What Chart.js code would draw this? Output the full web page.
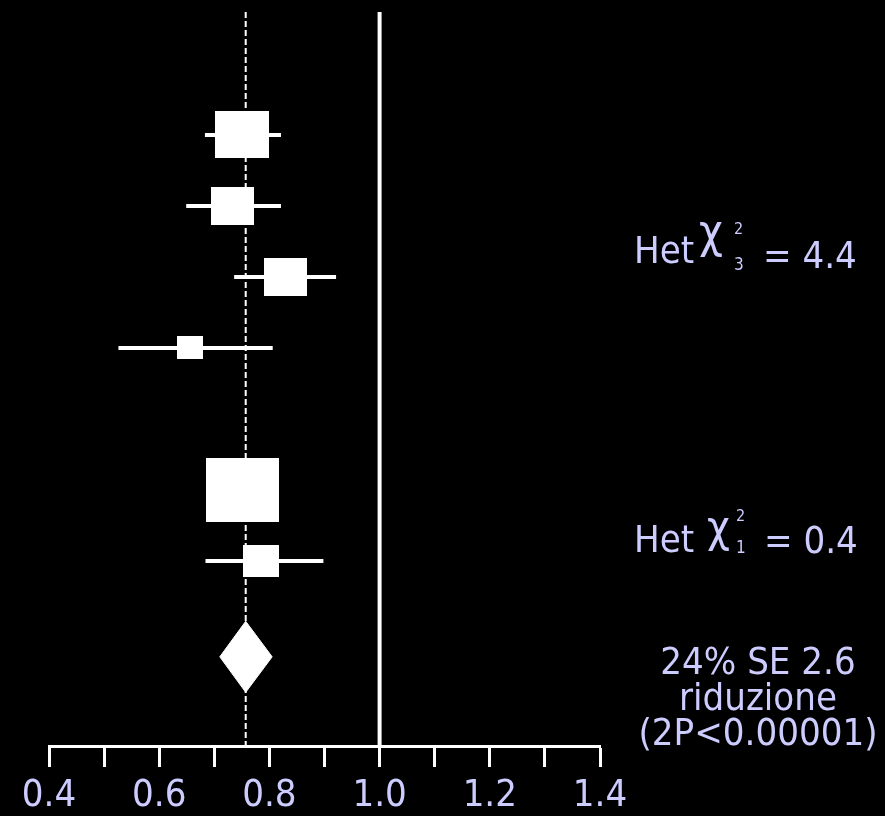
<!DOCTYPE html>
<html>
<head>
<meta charset="utf-8">
<script src="https://cdn.jsdelivr.net/npm/chart.js@4/dist/chart.umd.min.js"></script>
<style>
  html, body { margin: 0; padding: 0; background: #000; }
  #wrap { position: relative; width: 885px; height: 816px; background: #000; overflow: hidden; }
  #c { position: absolute; left: 0; top: 0; }
  .t { position: absolute; color: #ccccff; font-family: "DejaVu Sans Condensed", "DejaVu Sans", sans-serif; font-stretch: condensed; line-height: 1; white-space: nowrap; }
  #summary { position: absolute; left: 608px; top: 644px; width: 300px; text-align: center; color: #ccccff;
    font-family: "DejaVu Sans Condensed", "DejaVu Sans", sans-serif; font-stretch: condensed; font-size: 38px; line-height: 35.5px; white-space: nowrap; }
</style>
</head>
<body>
<div id="wrap">
  <canvas id="c" width="885" height="816"></canvas>
  <span class="t" style="left:634px;top:231px;font-size:38px">Het</span>
  <span class="t" style="left:699px;top:208px;font-size:46px">χ</span>
  <span class="t" style="left:734px;top:221px;font-size:16px">2</span>
  <span class="t" style="left:734px;top:256px;font-size:17px">3</span>
  <span class="t" style="left:763px;top:236px;font-size:38px">= 4.4</span>

  <span class="t" style="left:634px;top:520px;font-size:38px">Het</span>
  <span class="t" style="left:707px;top:505px;font-size:44px">χ</span>
  <span class="t" style="left:736px;top:508px;font-size:16px">2</span>
  <span class="t" style="left:736px;top:539px;font-size:17px">1</span>
  <span class="t" style="left:764px;top:521px;font-size:38px">= 0.4</span>

  <div id="summary">24% SE 2.6<br>riduzione<br>(2P&lt;0.00001)</div>
</div>
<script>
// ---- data ----
const rows       = [1, 2, 3, 4, 6, 7];                 // study row index (top to bottom)
const estimates  = [0.750, 0.733, 0.829, 0.656, 0.751, 0.785];
const ciLow      = [0.683, 0.649, 0.736, 0.526, 0.690, 0.684];
const ciHigh     = [0.821, 0.821, 0.921, 0.806, 0.812, 0.898];
const weights    = [54, 35, 35, 13, 100, 25];          // relative weight (box area)
const overallRow = 8.35;
const overallEstimate = 0.757;
const overallLow  = 0.710;
const overallHigh = 0.805;
const noEffect    = 1.0;
const tickValues  = [0.4, 0.5, 0.6, 0.7, 0.8, 0.9, 1.0, 1.1, 1.2, 1.3, 1.4];
const tickLabels  = ['0.4', '', '0.6', '', '0.8', '', '1.0', '', '1.2', '', '1.4'];

// ---- styling / layout constants ----
const Y_MIN = -0.732, Y_MAX = 9.606;
const FONT = "'DejaVu Sans Condensed', 'DejaVu Sans', sans-serif";
const BOX_MAX_H = 64, BOX_ASPECT = 1.14;
const DIAMOND_HALF = 0.5;

function boxImage(w) {
  const h = Math.round(BOX_MAX_H * Math.sqrt(w / 100));
  const wd = Math.round(h * BOX_ASPECT);
  const cv = document.createElement('canvas');
  cv.width = wd; cv.height = h;
  const g = cv.getContext('2d');
  g.fillStyle = '#ffffff';
  g.fillRect(0, 0, wd, h);
  return cv;
}
const boxImages = weights.map(boxImage);

const datasets = [];
// boxes (drawn on top)
datasets.push({
  data: estimates.map((e, i) => ({ x: e, y: rows[i] })),
  pointStyle: (ctx) => boxImages[ctx.dataIndex],
  pointRadius: 1,
  showLine: false
});
// overall diamond
datasets.push({
  data: [
    { x: overallLow, y: overallRow },
    { x: overallEstimate, y: overallRow - DIAMOND_HALF },
    { x: overallHigh, y: overallRow },
    { x: overallEstimate, y: overallRow + DIAMOND_HALF },
    { x: overallLow, y: overallRow }
  ],
  showLine: true, fill: 'shape', backgroundColor: '#ffffff', borderColor: '#ffffff',
  borderWidth: 1, pointRadius: 0, tension: 0
});
// confidence intervals
rows.forEach((r, i) => {
  datasets.push({
    data: [{ x: ciLow[i], y: r }, { x: ciHigh[i], y: r }],
    showLine: true, borderColor: '#ffffff', borderWidth: 4, pointRadius: 0,
    borderCapStyle: 'butt'
  });
});
// dotted line at overall estimate
datasets.push({
  data: [{ x: overallEstimate, y: Y_MIN }, { x: overallEstimate, y: Y_MAX }],
  showLine: true, borderColor: '#ffffff', borderWidth: 2, borderDash: [6, 3], pointRadius: 0
});
// solid line of no effect
datasets.push({
  data: [{ x: noEffect, y: Y_MIN }, { x: noEffect, y: Y_MAX }],
  showLine: true, borderColor: '#ffffff', borderWidth: 4, pointRadius: 0
});

new Chart(document.getElementById('c'), {
  type: 'scatter',
  data: { datasets },
  options: {
    responsive: false,
    animation: false,
    events: [],
    devicePixelRatio: 1,
    layout: { padding: { left: 49, right: 285, top: 12, bottom: 0 } },
    plugins: { legend: { display: false }, tooltip: { enabled: false } },
    scales: {
      x: {
        type: 'linear', position: 'bottom', min: 0.4, max: 1.4,
        afterBuildTicks: (axis) => { axis.ticks = tickValues.map(v => ({ value: v })); },
        afterFit: (axis) => { axis.height = 70; },
        ticks: {
          autoSkip: false, maxRotation: 0, minRotation: 0, padding: 6,
          color: '#ccccff', font: { family: FONT, size: 38 },
          callback: (v, i) => tickLabels[i]
        },
        grid: { drawOnChartArea: false, drawTicks: true, tickLength: 21, tickWidth: 3, tickColor: '#ffffff' },
        border: { display: true, color: '#ffffff', width: 3 }
      },
      y: {
        type: 'linear', display: false, reverse: true, min: Y_MIN, max: Y_MAX
      }
    }
  }
});
</script>
</body>
</html>
